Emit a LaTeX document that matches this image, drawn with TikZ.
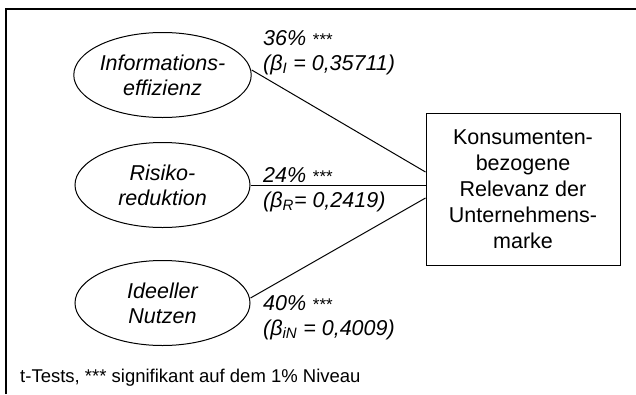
\documentclass[tikz,border=0pt]{standalone}
\usepackage{fontspec}
\setmainfont{Liberation Sans}
\usetikzlibrary{shapes.geometric}
\newcommand{\sigstars}{{\fontsize{17}{17}\selectfont ***}}
\begin{document}
\begin{tikzpicture}[x=1pt,y=-1pt,
  construct/.style={ellipse,draw,line width=1pt,minimum width=175pt,minimum height=85pt,
    inner sep=0pt,align=center,font=\fontsize{21.5}{25}\selectfont\itshape},
  target/.style={rectangle,draw,line width=1pt,minimum width=194pt,minimum height=152pt,
    inner sep=0pt,align=center,font=\fontsize{21.5}{26}\selectfont},
  effect/.style={line width=1pt},
  coef/.style={anchor=base west,inner sep=0pt,font=\fontsize{21.5}{25}\selectfont\itshape},
  note/.style={anchor=base west,inner sep=0pt,font=\fontsize{18.5}{22}\selectfont}]
\useasboundingbox (0,0) rectangle (636,394);
% frame
\coordinate (fl) at (6,394);
\coordinate (fc) at (6,9);
\coordinate (fr) at (636,9);
\draw[line width=1.5pt] (fl) -- (fc) -- (fr);

% constructs
\node[construct] (info) at (162.5,75) {Informations-\\effizienz};
\node[construct] (risk) at (162.5,185) {Risiko-\\reduktion};
\node[construct] (ideal) at (162.5,303) {Ideeller\\Nutzen};

% dependent construct
\node[target] (brand) at (523,189) {Konsumenten-\\bezogene\\Relevanz der\\Unternehmens-\\marke};

% paths
\draw[effect] ([yshift=5pt]info.east) -- ([yshift=17pt]brand.west);
\draw[effect] (risk.east) -- ([yshift=4pt]brand.west);
\draw[effect] ([yshift=5pt]ideal.east) -- ([yshift=-9pt]brand.west);

% path coefficients
\node[coef] (c1a) at (263,45) {36\% \sigstars};
\node[coef] (c1b) at (263,70) {(β\textsubscript{I} = 0,35711)};
\node[coef] (c2a) at (263,182) {24\% \sigstars};
\node[coef] (c2b) at (263,207) {(β\textsubscript{R}= 0,2419)};
\node[coef] (c3a) at (263,310) {40\% \sigstars};
\node[coef] (c3b) at (263,335) {(β\textsubscript{iN} = 0,4009)};

% footnote
\node[note] (fn) at (20,382) {t-Tests, *** signifikant auf dem 1\% Niveau};
\end{tikzpicture}
\end{document}
